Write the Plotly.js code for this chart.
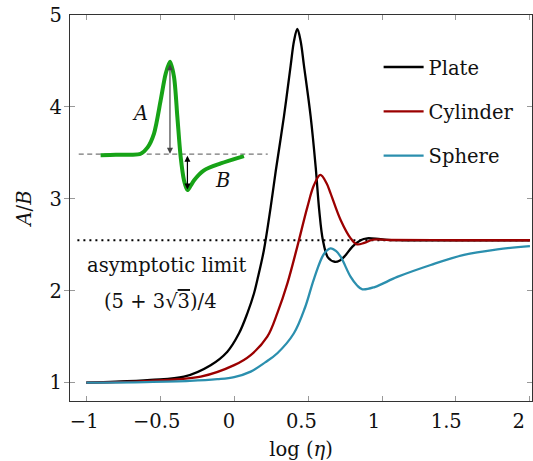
<!DOCTYPE html>
<html>
<head>
<meta charset="utf-8">
<script src="https://cdn.plot.ly/plotly-3.0.1.min.js"></script>
<style>html,body{margin:0;padding:0;background:#fff}#chart{width:533px;height:461px}</style>
</head>
<body>
<div id="chart"></div>
<script>
// Main curves: x = log(eta), y = A/B
const plateX = [-1, -0.8, -0.565, -0.339, -0.159, -0.046, 0.033, 0.089, 0.134, 0.157, 0.201, 0.247, 0.281, 0.337, 0.382, 0.405, 0.427, 0.449, 0.472, 0.517, 0.551, 0.575, 0.600, 0.635, 0.680, 0.715, 0.750, 0.800, 0.855, 0.900, 0.990, 1.100, 1.500, 2.000];
const plateY = [1.0, 1.01, 1.03, 1.065, 1.19, 1.337, 1.537, 1.754, 1.97, 2.12, 2.44, 2.91, 3.30, 3.90, 4.45, 4.72, 4.85, 4.72, 4.45, 3.90, 3.35, 2.88, 2.55, 2.36, 2.315, 2.33, 2.38, 2.48, 2.55, 2.57, 2.56, 2.55, 2.549, 2.549];

const cylX = [-1, -0.8, -0.565, -0.226, 0.0, 0.112, 0.224, 0.295, 0.360, 0.427, 0.495, 0.540, 0.583, 0.625, 0.652, 0.720, 0.788, 0.830, 0.880, 0.940, 1.050, 1.500, 2.000];
const cylY = [1.0, 1.005, 1.02, 1.065, 1.19, 1.30, 1.50, 1.77, 2.08, 2.48, 2.91, 3.15, 3.26, 3.17, 3.06, 2.77, 2.57, 2.505, 2.52, 2.555, 2.552, 2.549, 2.549];

const sphX = [-1, -0.6, -0.3, -0.114, 0.0, 0.112, 0.210, 0.292, 0.404, 0.480, 0.540, 0.607, 0.652, 0.690, 0.720, 0.788, 0.830, 0.867, 0.950, 1.103, 1.329, 1.554, 1.780, 2.000];
const sphY = [1.0, 1.006, 1.018, 1.037, 1.06, 1.12, 1.22, 1.32, 1.537, 1.82, 2.13, 2.40, 2.46, 2.43, 2.37, 2.15, 2.06, 2.015, 2.04, 2.15, 2.28, 2.39, 2.45, 2.486];

// Asymptotic limit (5 + 3*sqrt(3))/4
const limitX = [-1.06, 2.02];
const limitY = [2.549, 2.549];

// Inset sketch of the signal (green) and its baseline
const insetX = [-0.903, -0.80, -0.70, -0.632, -0.585, -0.542, -0.497, -0.463, -0.434, -0.407, -0.384, -0.362, -0.339, -0.316, -0.295, -0.272, -0.204, -0.091, 0.066];
const insetY = [3.475, 3.48, 3.48, 3.49, 3.56, 3.71, 4.07, 4.36, 4.49, 4.33, 3.89, 3.46, 3.20, 3.095, 3.14, 3.20, 3.31, 3.385, 3.465];
const baseX = [-1.051, 0.227];
const baseY = [3.486, 3.486];

const legendNames = ['Plate', 'Cylinder', 'Sphere'];
const tickX = [-1, -0.5, 0, 0.5, 1, 1.5, 2];
const tickXText = ['\u22121', '\u22120.5', '0', '0.5', '1', '1.5', '2'];
const tickY = [1, 2, 3, 4, 5];

const FONT = 'DejaVu Serif';
const FS = 19.5;
const TXT = '#111';

const traces = [
  {x: limitX, y: limitY, mode: 'lines', line: {color: '#000', width: 2, dash: '2px,4px'}, showlegend: false, hoverinfo: 'skip'},
  {x: baseX, y: baseY, mode: 'lines', line: {color: '#777', width: 1.3, dash: '5px,3.5px'}, showlegend: false, hoverinfo: 'skip'},
  {x: insetX, y: insetY, mode: 'lines', line: {color: '#17a317', width: 4, shape: 'spline', smoothing: 0.8}, showlegend: false, hoverinfo: 'skip'},
  {x: plateX, y: plateY, name: legendNames[0], legendgroup: 'a', mode: 'lines', line: {color: '#000000', width: 2.3, shape: 'spline', smoothing: 1}},
  {x: cylX, y: cylY, name: legendNames[1], legendgroup: 'b', mode: 'lines', line: {color: '#9b0000', width: 2.3, shape: 'spline', smoothing: 1}},
  {x: sphX, y: sphY, name: legendNames[2], legendgroup: 'c', mode: 'lines', line: {color: '#2b8fae', width: 2.3, shape: 'spline', smoothing: 1}},
  // empty trace that carries the tick-label axis
  {x: [], y: [], xaxis: 'x2', yaxis: 'y', mode: 'lines', showlegend: false, hoverinfo: 'skip'}
];

const axisCommon = {
  showgrid: false, zeroline: false, showline: true, linecolor: '#333', linewidth: 1.2,
  mirror: 'allticks', ticks: 'inside', ticklen: 5, tickwidth: 1, tickcolor: '#999',
  tickfont: {family: FONT, size: FS, color: TXT}
};

const layout = {
  width: 533, height: 461,
  margin: {l: 70, r: 1, t: 15, b: 60},
  paper_bgcolor: '#fff', plot_bgcolor: '#fff',
  font: {family: FONT, size: FS, color: TXT},
  showlegend: true,
  legend: {x: 0.668, y: 0.915, xanchor: 'left', yanchor: 'top', bgcolor: 'rgba(0,0,0,0)',
           font: {family: FONT, size: FS, color: TXT}, tracegroupgap: 16, itemwidth: 40},
  xaxis: Object.assign({}, axisCommon, {range: [-1.11, 2.014], tickvals: tickX, showticklabels: false}),
  xaxis2: {overlaying: 'x', anchor: 'y', side: 'bottom', range: [-1.098, 2.092], showgrid: false, zeroline: false,
           showline: false, ticks: '', tickvals: tickX, ticktext: tickXText, ticklabelstandoff: 6,
           ticklabeloverflow: 'allow', tickfont: {family: FONT, size: FS, color: TXT},
           title: {text: 'log (<i>η</i>)', font: {family: FONT, size: FS, color: TXT}, standoff: 11}},
  yaxis: Object.assign({}, axisCommon, {range: [0.8, 5], tickvals: tickY, ticklabelstandoff: 3,
           title: {text: '<i>A</i>/<i>B</i>', font: {family: FONT, size: FS, color: TXT}, standoff: 12}}),
  annotations: [
    {x: -0.456, y: 2.279, xref: 'x', yref: 'y', text: 'asymptotic limit', showarrow: false,
     font: {family: FONT, size: FS, color: TXT}},
    {x: -0.497, y: 1.88, xref: 'x', yref: 'y', text: '(5 + 3√<span style="text-decoration:overline">3</span>)/4', showarrow: false,
     font: {family: FONT, size: FS, color: TXT}},
    {x: -0.639, y: 3.93, xref: 'x', yref: 'y', text: '<i>A</i>', showarrow: false,
     font: {family: FONT, size: FS, color: TXT}},
    {x: -0.080, y: 3.20, xref: 'x', yref: 'y', text: '<i>B</i>', showarrow: false,
     font: {family: FONT, size: FS, color: TXT}},
    {x: -0.434, y: 3.49, ax: -0.434, ay: 4.48, xref: 'x', yref: 'y', axref: 'x', ayref: 'y', text: '',
     showarrow: true, arrowhead: 2, startarrowhead: 2, arrowside: 'end+start', arrowsize: 1, arrowwidth: 1.2, arrowcolor: '#444',
     standoff: 0, startstandoff: 0},
    {x: -0.316, y: 3.10, ax: -0.316, ay: 3.486, xref: 'x', yref: 'y', axref: 'x', ayref: 'y', text: '',
     showarrow: true, arrowhead: 2, startarrowhead: 2, arrowside: 'end+start', arrowsize: 1, arrowwidth: 1.2, arrowcolor: '#000',
     standoff: 0, startstandoff: 0}
  ]
};

Plotly.newPlot('chart', traces, layout, {displayModeBar: false, staticPlot: true});
</script>
</body>
</html>
